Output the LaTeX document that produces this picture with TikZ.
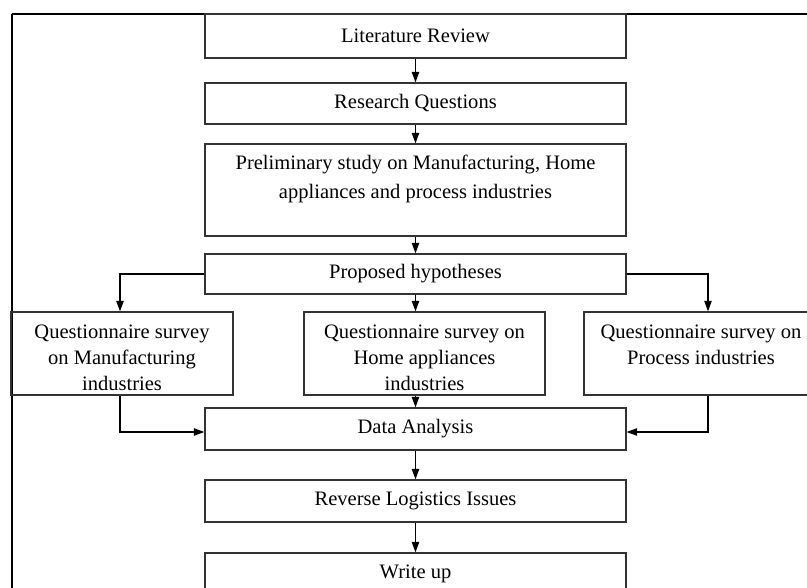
\documentclass[tikz,border=0pt]{standalone}
\usepackage{fontspec}
\setmainfont{Liberation Serif}
\usetikzlibrary{arrows.meta}
\begin{document}
\begin{tikzpicture}[x=0.75pt,y=-0.75pt,
  box/.style={draw=black!80, line width=0.8pt, inner sep=0pt, minimum width=315.75pt, align=center,
    font=\fontsize{15.4pt}{19.5pt}\selectfont},
  qbox/.style={box, minimum height=62.25pt},
  txt/.style={inner sep=0pt, align=center, font=\fontsize{15.4pt}{21.75pt}\selectfont},
  qtxt/.style={inner sep=0pt, align=center, font=\fontsize{15.4pt}{19.3pt}\selectfont},
  arr/.style={line width=1.1pt, -{Triangle[length=8pt,width=5.5pt]}},
  frame/.style={line width=1.5pt}]
\useasboundingbox (0,0) rectangle (807,588);
\clip (0,0) rectangle (807,588);
\draw[frame] (11.5,14) -- (830,14);
\draw[frame] (11.5,14) -- (11.5,600);
\node[box, minimum height=33pt] (lit) at (415.5,36) {Literature Review};
\node[box, minimum height=30.75pt] (rq) at (415.5,103.5) {Research Questions};
\node[box, minimum height=69pt] (pre) at (415.5,190) {};
\node[txt] (pretext) at (415.5,179) {Preliminary study on Manufacturing, Home\\appliances and process industries};
\node[box, minimum height=30pt] (hyp) at (415.5,274) {Proposed hypotheses};
\node[qbox, minimum width=166.5pt] (qm) at (122,353.5) {};
\node[qbox, minimum width=180.75pt] (qh) at (424.5,353.5) {};
\node[qbox, minimum width=175.5pt] (qp) at (701,353.5) {};
\node[qtxt] (qmt) at (122,358) {Questionnaire survey\\on Manufacturing\\industries};
\node[qtxt] (qht) at (424.5,358) {Questionnaire survey on\\Home appliances\\industries};
\node[qtxt] (qpt) at (701,345) {Questionnaire survey on\\Process industries};
\node[box, minimum height=31.5pt] (da) at (415.5,429) {Data Analysis};
\node[box, minimum height=31.5pt] (rl) at (415.5,501) {Reverse Logistics Issues};
\node[box, minimum height=31.5pt] (wu) at (415.5,574) {Write up};
\draw[arr] (lit) -- (rq);
\draw[arr] (rq) -- (pre);
\draw[arr] (pre) -- (hyp);
\draw[arr] (hyp.west) -| ([xshift=-1.5pt]qm.north);
\draw[arr] (hyp.south) -- (hyp.south |- qh.north);
\draw[arr] (hyp.east) -| ([xshift=5.25pt]qp.north);
\draw[arr] ([xshift=-1.5pt]qm.south) |- ([yshift=-2.25pt]da.west);
\draw[arr] (qh.south -| da.north) -- (da.north);
\draw[arr] ([xshift=5.25pt]qp.south) |- ([yshift=-2.25pt]da.east);
\draw[arr] (da) -- (rl);
\draw[arr] (rl) -- (wu);
\end{tikzpicture}
\end{document}
